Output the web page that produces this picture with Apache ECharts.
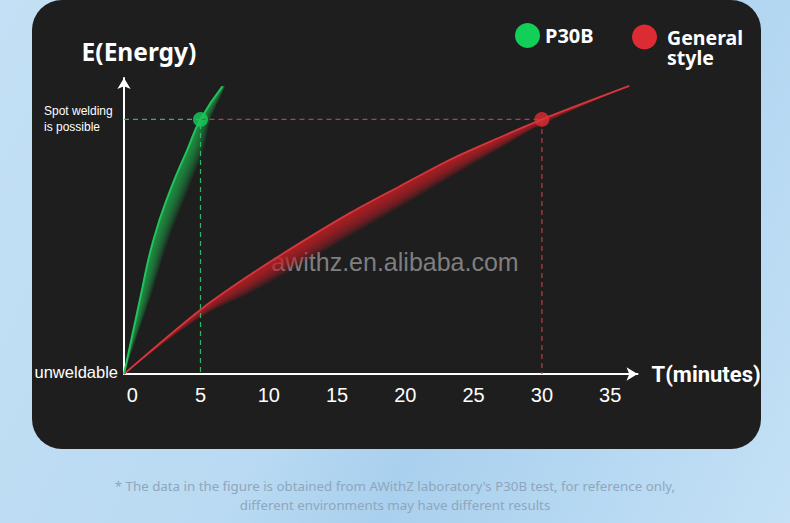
<!DOCTYPE html>
<html>
<head>
<meta charset="utf-8">
<script src="https://cdn.jsdelivr.net/npm/echarts@6/dist/echarts.min.js"></script>
<style>
html, body { margin: 0; padding: 0; }
body {
    width: 790px; height: 523px; overflow: hidden; position: relative;
    background: linear-gradient(115deg, #c3e0f5 0%, #b9daf2 45%, #a9d0ee 60%, #c4e1f6 100%);
}
#panel {
    position: absolute; left: 32px; top: 0; width: 729px; height: 449px;
    background: #1e1e1e; border-radius: 30px;
}
#canvas { position: absolute; left: 0; top: 0; width: 790px; height: 523px; }
</style>
</head>
<body>
<div id="panel"></div>
<div id="canvas"></div>
<script>
// time axis starts a little left of 0 (the curves leave from the axis corner)
var tStart = -0.6;
var xTicks = [0, 5, 10, 15, 20, 25, 30, 35];
var yMarks = [0, 80];
var yMarkLabels = ['unweldable', 'Spot welding\nis possible'];

// P30B curve and the outer edge of its glow
var greenCurve = [[-0.6, 0], [0.61, 24.3], [1.56, 42.2], [2.81, 58.0], [4.05, 70.6], [5, 80], [6.61, 90.4]];
var greenGlow = [[-0.6, 0], [1.35, 24.3], [2.66, 42.2], [4.1, 58.0], [5.23, 70.6], [5.75, 80], [6.8, 90.4]];

// general style curve and its glow edge
var redCurve = [[-0.6, 0], [5, 20.2], [8.65, 31.2], [12.3, 41.2], [16, 50.7], [19.6, 59.0], [23.3, 67.4], [26.9, 74.3], [30, 80], [36.4, 90.5]];
var redGlow = [[-0.6, 0], [5, 17.7], [8.65, 25.5], [12.3, 34.2], [16, 43.5], [19.6, 52.4], [23.3, 61.8], [26.9, 70.8], [30, 78.3], [36.4, 90.5]];

// welding reached: P30B at 5 min, general at 30 min
var greenPoint = [[5, 80]];
var redPoint = [[30, 80]];
var greenGuide = [[-0.6, 80], [5, 80], [5, 0]];
var redGuide = [[5, 80], [30, 80], [30, 0]];

var GREEN = '#12cf5a';
var RED = '#dd2b33';

// glow: stacked translucent crescents between the curve and its edge
var glowItem = function(line, edge, rgb, alpha) {
    return function(params, api) {
        var top = line.map(function(p) { return api.coord(p); });
        var bot = edge.map(function(p) { return api.coord(p); });
        var layers = 14;
        var parts = [];
        for (var k = 1; k <= layers; k++) {
            var f = k / layers;
            var lower = bot.map(function(q, i) {
                return [top[i][0] + (q[0] - top[i][0]) * f, top[i][1] + (q[1] - top[i][1]) * f];
            }).reverse();
            parts.push({
                type: 'polygon',
                shape: {points: top.concat(lower), smooth: 0.4},
                style: {fill: 'rgba(' + rgb + ',' + alpha + ')'}
            });
        }
        return {type: 'group', children: parts};
    };
};

var myChart = echarts.init(document.getElementById('canvas'), null, {renderer: 'svg'});

var option = {
    animation: false,
    backgroundColor: 'transparent',
    grid: {left: 124, right: 152.5, top: 78, bottom: 149, containLabel: false, outerBoundsMode: 'none'},
    legend: [{
        data: ['P30B'],
        left: 515, top: 23, padding: 0,
        icon: 'circle', itemWidth: 25, itemHeight: 25,
        selectedMode: false,
        itemStyle: {color: GREEN, borderWidth: 0},
        textStyle: {color: '#fff', fontSize: 20, fontWeight: 'bold', fontFamily: 'Noto Sans'}
    }, {
        data: ['General style'],
        left: 632, top: 7, padding: 0,
        icon: 'circle', itemWidth: 25, itemHeight: 25,
        selectedMode: false,
        itemStyle: {color: RED, borderWidth: 0},
        // empty first line keeps "General" level with the dot
        formatter: function() { return ' \n General\n style'; },
        textStyle: {color: '#fff', fontSize: 19.5, fontWeight: 'bold', fontFamily: 'Noto Sans', lineHeight: 20}
    }],
    xAxis: {
        type: 'value',
        min: tStart, max: 37,
        name: 'T(minutes)',
        nameLocation: 'end',
        nameGap: 14,
        nameTextStyle: {color: '#fff', fontSize: 22, fontWeight: 'bold', fontFamily: 'Roboto',
            verticalAlign: 'middle', padding: [4, 0, 0, 0]},
        splitLine: {show: false},
        axisTick: {show: false},
        axisLine: {
            show: true, onZero: false,
            lineStyle: {color: '#fff', width: 2},
            symbol: ['none', 'arrow'], symbolSize: [10, 11]
        },
        axisLabel: {
            customValues: xTicks,
            color: '#fff', fontSize: 20, margin: 11,
            fontFamily: 'Liberation Sans'
        }
    },
    yAxis: {
        type: 'value',
        min: 0, max: 93,
        name: 'E(Energy)',
        nameLocation: 'end',
        nameGap: 14,
        nameTextStyle: {color: '#fff', fontSize: 24.5, fontWeight: 'bold', fontFamily: 'Noto Sans',
            align: 'center', padding: [0, 0, 0, 30]},
        splitLine: {show: false},
        axisTick: {show: false},
        axisLine: {
            show: true, onZero: false,
            lineStyle: {color: '#fff', width: 2},
            symbol: ['none', 'arrow'], symbolSize: [10, 11]
        },
        axisLabel: {
            customValues: yMarks,
            margin: 6,
            color: '#fff',
            fontFamily: 'Liberation Sans',
            formatter: function(v) {
                var i = yMarks.indexOf(v);
                if (i == 0) return '{u|' + yMarkLabels[0] + '}';
                return yMarkLabels[i].split('\n').map(function(s) { return '{s|' + s + '}'; }).join('\n');
            },
            rich: {
                u: {fontSize: 16.5, color: '#fff', fontFamily: 'Liberation Sans', padding: [0, 0, 5, 0]},
                s: {fontSize: 12, color: '#fff', fontFamily: 'Liberation Sans', width: 74, align: 'left', lineHeight: 16}
            }
        }
    },
    graphic: [{
        type: 'text', x: 395, y: 262, silent: true,
        style: {text: 'awithz.en.alibaba.com', fill: 'rgba(160,160,160,0.75)',
            fontSize: 25, fontFamily: 'Liberation Sans', align: 'center', verticalAlign: 'middle'}
    }, {
        type: 'text', x: 395, y: 476, silent: true,
        style: {text: "* The data in the figure is obtained from AWithZ laboratory's P30B test, for reference only,\ndifferent environments may have different results",
            fill: '#8fa6bc', fontSize: 13.3, fontFamily: 'Noto Sans', lineHeight: 19,
            align: 'center', verticalAlign: 'top'}
    }],
    series: [{
        type: 'custom',
        silent: true,
        renderItem: glowItem(redCurve, redGlow, '195,35,42', 0.12),
        data: [[0, 0]]
    }, {
        type: 'custom',
        silent: true,
        renderItem: glowItem(greenCurve, greenGlow, '25,175,75', 0.1),
        data: [[0, 0]]
    }, {
        type: 'line',
        silent: true,
        data: greenGuide,
        showSymbol: false,
        lineStyle: {color: '#2cb862', width: 1.2, type: [5, 4]}
    }, {
        type: 'line',
        silent: true,
        data: redGuide,
        showSymbol: false,
        lineStyle: {color: '#c23a3e', width: 1.2, type: [5, 4]}
    }, {
        name: 'General style',
        type: 'line',
        data: redCurve,
        smooth: 0.3,
        showSymbol: false,
        color: RED,
        lineStyle: {color: '#d2383e', width: 1.8}
    }, {
        name: 'P30B',
        type: 'line',
        data: greenCurve,
        smooth: 0.5,
        showSymbol: false,
        color: GREEN,
        lineStyle: {color: '#22c25c', width: 2}
    }, {
        type: 'scatter',
        data: greenPoint,
        symbolSize: 15,
        itemStyle: {color: GREEN}
    }, {
        type: 'scatter',
        data: redPoint,
        symbolSize: 15,
        itemStyle: {color: RED}
    }]
};
myChart.setOption(option);
</script>
</body>
</html>
